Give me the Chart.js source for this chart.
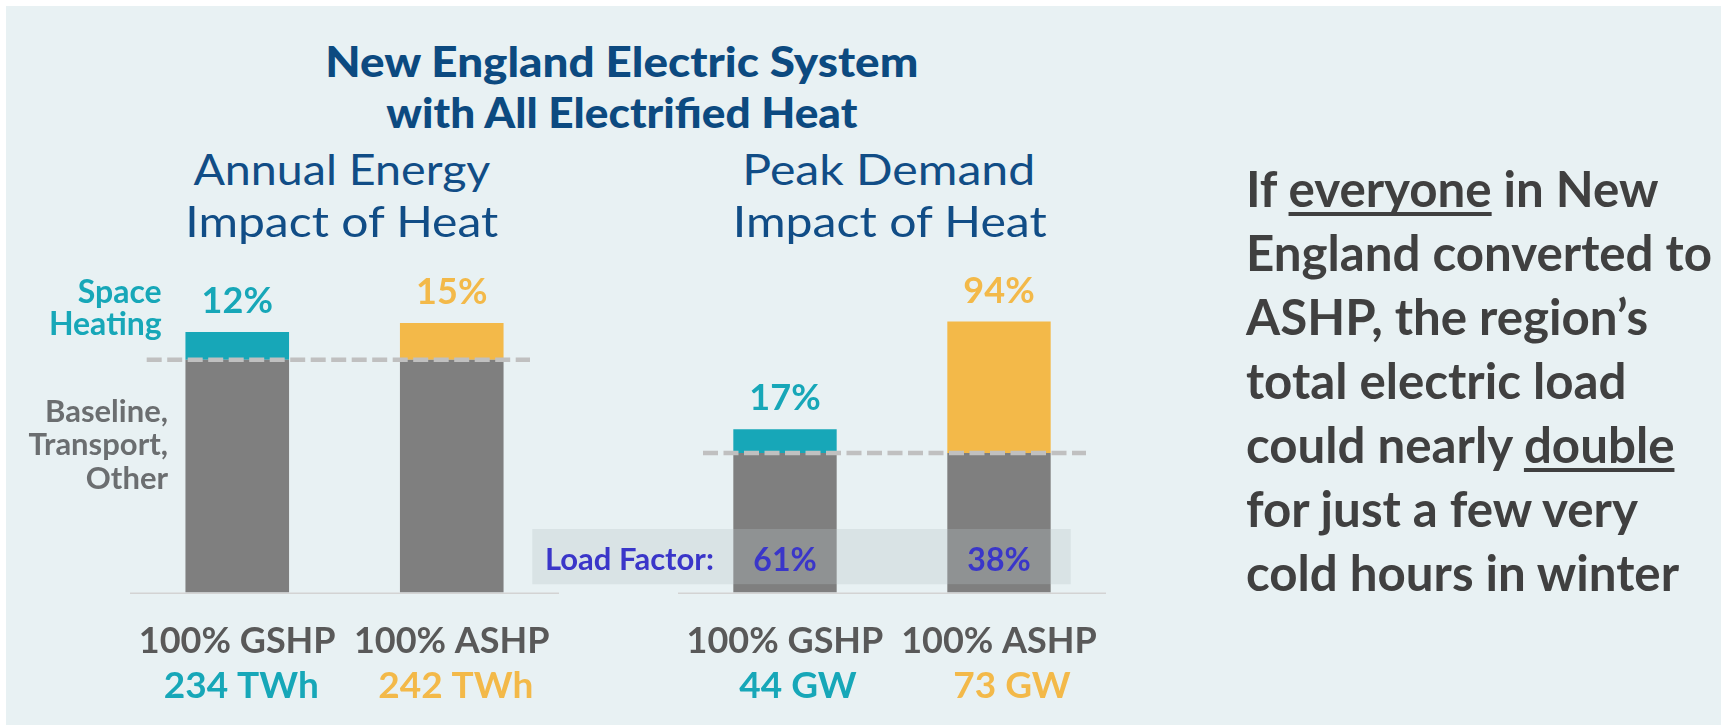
<!DOCTYPE html>
<html>
<head>
<meta charset="utf-8">
<script src="https://cdn.jsdelivr.net/npm/chart.js@4.4.1/dist/chart.umd.min.js"></script>
<style>
  html,body{margin:0;padding:0;background:#ffffff;width:1721px;height:727px;overflow:hidden;position:relative;}
  #bg{position:absolute;left:6px;top:6px;width:1715px;height:719px;background:#e8f1f3;}
  canvas{position:absolute;}
  .txt{position:absolute;white-space:nowrap;line-height:1.2;}
  .txt u{text-decoration-thickness:3.5px;text-underline-offset:5px;text-decoration-skip-ink:none;}
</style>
</head>
<body>
<div id="bg"></div>
<canvas id="energy" width="490" height="480" style="left:100px;top:240px;"></canvas>
<canvas id="peak" width="600" height="480" style="left:520px;top:240px;"></canvas>
<script>
// ---------------- data ----------------
const categories = ['100% GSHP', '100% ASHP'];
const energyBaseline = [209, 209];          // TWh, baseline/transport/other
const energyHeat = [25, 33];                // TWh, space heating
const energyTotals = ['234 TWh', '242 TWh'];
const energyHeatPct = ['12%', '15%'];
const peakBaseline = [37.6, 37.6];          // GW
const peakHeat = [6.4, 35.4];               // GW
const peakTotals = ['44 GW', '73 GW'];
const peakHeatPct = ['17%', '94%'];
const loadFactor = ['61%', '38%'];
const energyAxisMax = 300;
const peakAxisMax = 90;

const heatColors = ['#17a7b8', '#f3b949'];
const FONT = 'Lato, "Noto Sans", sans-serif';

// ---------------- chart decoration plugin ----------------
const deco = {
  id: 'deco',
  beforeDatasetsDraw(chart, args, o) {
    const {ctx, chartArea: ca} = chart;
    ctx.save();
    ctx.strokeStyle = '#d3d3d3';
    ctx.lineWidth = 1.5;
    ctx.beginPath();
    ctx.moveTo(ca.left, ca.bottom + 0.75);
    ctx.lineTo(ca.right, ca.bottom + 0.75);
    ctx.stroke();
    ctx.restore();
  },
  afterDatasetsDraw(chart, args, o) {
    const {ctx, chartArea: ca, scales: {x, y}} = chart;
    ctx.save();
    // dashed baseline marker
    const yb = y.getPixelForValue(o.baseline);
    ctx.strokeStyle = '#c0c0c0';
    ctx.lineWidth = 4.5;
    ctx.setLineDash([15, 5.5]);
    ctx.beginPath();
    ctx.moveTo(ca.left + o.dashL, yb);
    ctx.lineTo(ca.right - o.dashR, yb);
    ctx.stroke();
    ctx.setLineDash([]);

    // percentage labels above bars
    const meta = chart.getDatasetMeta(1);
    ctx.textAlign = 'center';
    ctx.textBaseline = 'alphabetic';
    meta.data.forEach((bar, i) => {
      ctx.fillStyle = heatColors[i];
      ctx.font = 'bold 36px ' + FONT;
      ctx.fillText(o.pct[i], bar.x, bar.y - 19);
    });

    // category names and totals
    categories.forEach((c, i) => {
      const px = x.getPixelForValue(i);
      ctx.fillStyle = '#595959';
      ctx.font = 'bold 36px ' + FONT;
      ctx.textAlign = 'center';
      ctx.fillText(c, px, ca.bottom + 60.5);
      ctx.fillStyle = heatColors[i];
      ctx.font = 'bold 37px ' + FONT;
      ctx.fillText(o.totals[i], px + o.valueShift, ca.bottom + 105.5);
    });

    // load factor band
    if (o.loadFactor) {
      ctx.fillStyle = 'rgba(183,192,197,0.29)';
      ctx.fillRect(ca.left - 145.7, ca.bottom - 63.5, (ca.right - 35.3) - (ca.left - 145.7), 55.2);
      ctx.fillStyle = '#3a36c9';
      ctx.font = 'bold 31px ' + FONT;
      ctx.textAlign = 'left';
      ctx.fillText('Load Factor:', ca.left - 133, ca.bottom - 23);
      ctx.font = 'bold 32px ' + FONT;
      ctx.textAlign = 'center';
      const m0 = chart.getDatasetMeta(0);
      m0.data.forEach((bar, i) => {
        ctx.fillText(o.loadFactor[i], bar.x, ca.bottom - 21.5);
      });
    }
    ctx.restore();
  }
};

function makeChart(id, base, heat, max, cfg) {
  return new Chart(document.getElementById(id), {
    type: 'bar',
    data: {
      labels: categories,
      datasets: [
        {label: 'Baseline, Transport, Other', data: base, backgroundColor: '#7f7f7f', borderWidth: 0},
        {label: 'Space Heating', data: heat, backgroundColor: heatColors, borderWidth: 0}
      ]
    },
    options: {
      responsive: false,
      animation: false,
      events: [],
      layout: {padding: cfg.pad},
      datasets: {bar: {barPercentage: 0.483, categoryPercentage: 1}},
      scales: {
        x: {display: false, stacked: true},
        y: {display: false, stacked: true, min: 0, max: max}
      },
      plugins: {legend: {display: false}, tooltip: {enabled: false}, deco: cfg}
    },
    plugins: [deco]
  });
}

makeChart('energy', energyBaseline, energyHeat, energyAxisMax, {
  pad: {left: 30, right: 31, top: 18.5, bottom: 127.5},
  baseline: energyBaseline[0], dashL: 16.7, dashR: 29,
  pct: energyHeatPct, totals: energyTotals, valueShift: 4
});
makeChart('peak', peakBaseline, peakHeat, peakAxisMax, {
  pad: {left: 158, right: 14, top: 18.5, bottom: 127.5},
  baseline: peakBaseline[0], dashL: 25, dashR: 20,
  pct: peakHeatPct, totals: peakTotals, valueShift: 13,
  loadFactor: loadFactor
});

// ---------------- HTML text ----------------
function place(o) {
  const d = document.createElement('div');
  d.className = 'txt';
  d.style.font = `${o.weight} ${o.size}px ${FONT}`;
  d.style.color = o.color;
  d.innerHTML = o.html + '<span class="bl" style="display:inline-block;width:0;height:0;vertical-align:baseline"></span>';
  document.body.appendChild(d);
  const baseOff = d.querySelector('.bl').offsetTop;
  const w = d.getBoundingClientRect().width;
  let left, origin;
  if (o.cx != null) { left = o.cx - w / 2; origin = 'center'; }
  else if (o.right != null) { left = o.right - w; origin = 'right'; }
  else { left = o.left; origin = 'left'; }
  d.style.left = left + 'px';
  d.style.top = (o.base - baseOff) + 'px';
  if (o.w) {
    d.style.transformOrigin = origin + ' center';
    d.style.transform = `scaleX(${o.w / w})`;
  }
  return d;
}

const titleBlue = '#0c4a80';
const subBlue = '#114d86';
[
  {html: 'New England Electric System', cx: 622, base: 76.7, size: 42, weight: 900, color: titleBlue, w: 593},
  {html: 'with All Electrified Heat', cx: 622, base: 128.3, size: 42, weight: 900, color: titleBlue, w: 471},
  {html: 'Annual Energy', cx: 341.6, base: 185, size: 42, weight: 400, color: subBlue, w: 297},
  {html: 'Impact of Heat', cx: 341.7, base: 236.7, size: 42, weight: 400, color: subBlue, w: 313},
  {html: 'Peak Demand', cx: 888.4, base: 185, size: 42, weight: 400, color: subBlue, w: 293},
  {html: 'Impact of Heat', cx: 890, base: 236.7, size: 42, weight: 400, color: subBlue, w: 314},
  {html: 'Space', right: 161.7, base: 303.3, size: 32, weight: 700, color: '#17a7b8'},
  {html: 'Heating', right: 161.7, base: 335, size: 32, weight: 700, color: '#17a7b8'},
  {html: 'Baseline,', right: 168, base: 421.7, size: 31, weight: 700, color: '#6b6e70'},
  {html: 'Transport,', right: 168, base: 455, size: 31, weight: 700, color: '#6b6e70'},
  {html: 'Other', right: 168, base: 488.5, size: 31, weight: 700, color: '#6b6e70'}
].forEach(place);

// right-hand statement
const statement = [
  'If <u>everyone</u> in New',
  'England converted to',
  'ASHP, the region\u2019s',
  'total electric load',
  'could nearly <u>double</u>',
  'for just a few very',
  'cold hours in winter'
];
const probe = place({html: statement[1], left: 0, base: 0, size: 48, weight: 700, color: '#404040'});
const probeW = probe.getBoundingClientRect().width;
probe.remove();
const stSize = 48 * 466 / probeW;
statement.forEach((line, k) => {
  place({html: line, left: 1246, base: 206.7 + 64 * k, size: stSize, weight: 700, color: '#404040'});
});
</script>
</body>
</html>
